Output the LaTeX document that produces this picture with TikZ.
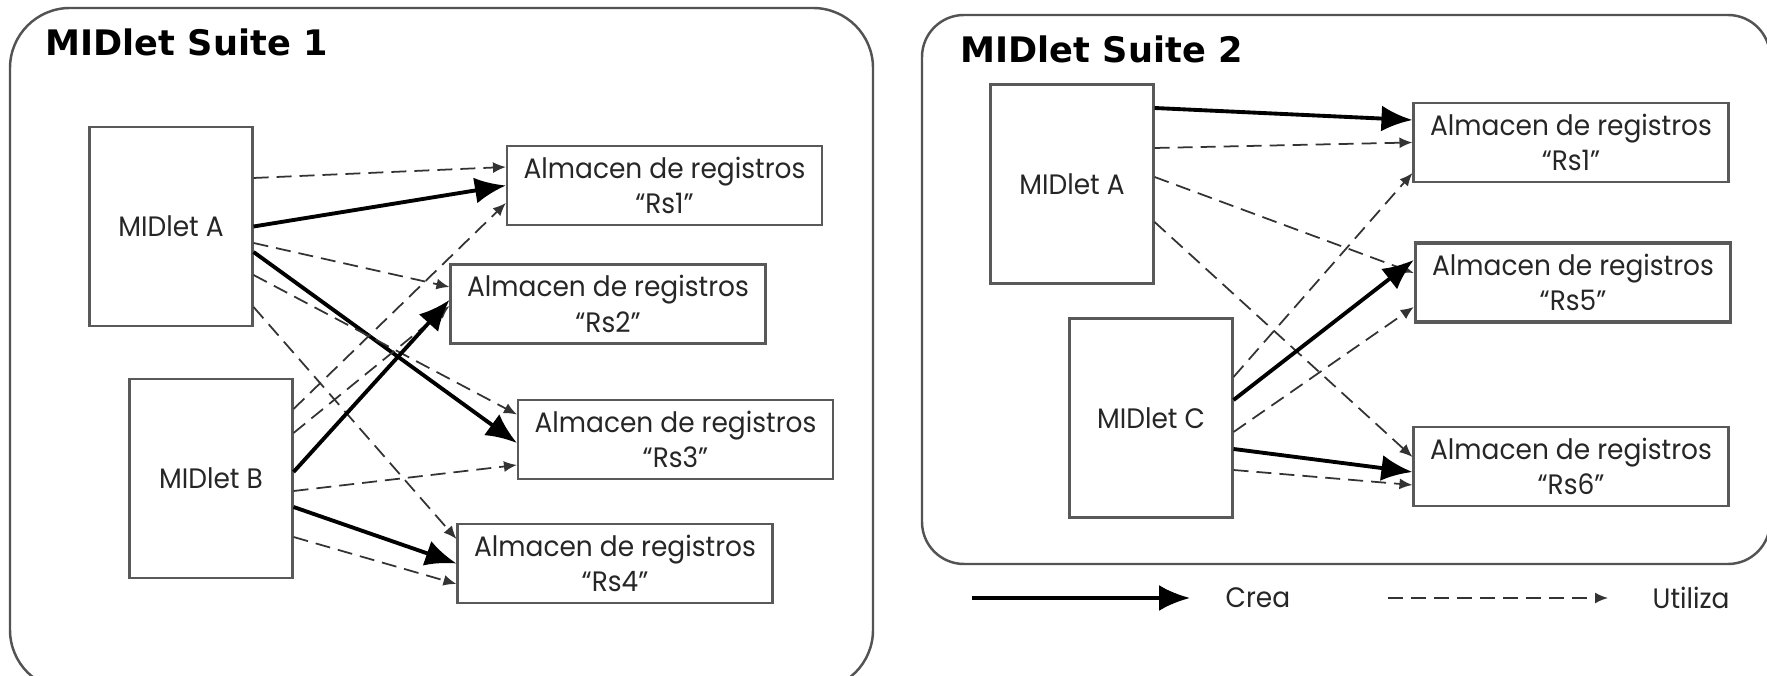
\documentclass[tikz,border=0pt]{standalone}
\usepackage{fontspec}
\usepackage{tikz}
\usetikzlibrary{arrows.meta}
\newfontfamily\boxfont[FakeStretch = 0.94]{Poppins}
\newfontfamily\titlefont{DejaVu Sans}

\begin{document}
\begin{tikzpicture}
		\tikzset{> = latex}
		\tikzset{suite/.style = {draw = gray!65!black, line width = 0.7pt},
			midlet/.style = {draw = gray!70!black, text = black!85, line width = 0.6pt, minimum width = 1.63cm, minimum height = 1.99cm, font = \boxfont\fontsize{8}{10.2}\selectfont},
			store/.style = {draw = gray!70!black, text = black!85, line width = 0.6pt, minimum width = 3.15cm, minimum height = 0.79cm, inner sep = 0pt, align = center, font = \boxfont\fontsize{8}{10.2}\selectfont},
			creates/.style = {line width = 1.1pt, -{Latex[length = 0.31cm, width = 0.26cm]}},
			uses/.style = {black!80, line width = 0.5pt, dash pattern = on 0.15cm off 0.08cm, -{Latex[length = 0.13cm, width = 0.11cm]}}}
		\useasboundingbox (0,0) rectangle (17.67,6.76);
		\draw[suite, rounded corners = 0.6cm] (0.10,-0.14) rectangle (8.73,6.68);
		\draw[suite, rounded corners = 0.42cm] (9.22,1.12) rectangle (17.70,6.61);
		\node[anchor = base west, inner sep = 0pt, font = \titlefont\bfseries\fontsize{10}{12}\selectfont] (T1) at (0.45,6.20) {MIDlet Suite 1};
		\node[anchor = base west, inner sep = 0pt, font = \titlefont\bfseries\fontsize{10}{12}\selectfont] (T2) at (9.60,6.13) {MIDlet Suite 2};
		\node[midlet] (A1) at (1.71,4.495) {MIDlet A};
		\node[midlet] (B1) at (2.11,1.975) {MIDlet B};
		\node[store] (R1) at (6.645,4.905) {Almacen de registros\\“Rs1”};
		\node[store] (R2) at (6.08,3.72) {Almacen de registros\\“Rs2”};
		\node[store] (R3) at (6.755,2.365) {Almacen de registros\\“Rs3”};
		\node[store] (R4) at (6.15,1.125) {Almacen de registros\\“Rs4”};
		\node[midlet] (A2) at (10.72,4.92) {MIDlet A};
		\node[midlet] (C2) at (11.51,2.58) {MIDlet C};
		\node[store] (S1) at (15.71,5.335) {Almacen de registros\\“Rs1”};
		\node[store, line width = 1pt] (S5) at (15.73,3.935) {Almacen de registros\\“Rs5”};
		\node[store] (S6) at (15.71,2.095) {Almacen de registros\\“Rs6”};
		\draw[uses] ([yshift = 0.485cm]A1.east) -- ([yshift = 0.185cm]R1.west);
		\draw[creates] (A1.east) -- (R1.west);
		\draw[uses] ([yshift = -0.165cm]A1.east) -- ([yshift = 0.17cm]R2.west);
		\draw[creates] ([yshift = -0.255cm]A1.east) -- ([yshift = -0.035cm]R3.west);
		\draw[uses] ([yshift = -0.485cm]A1.east) -- ([yshift = 0.25cm]R3.west);
		\draw[uses] ([yshift = -0.805cm]A1.east) -- ([yshift = 0.245cm]R4.west);
		\draw[uses] ([yshift = 0.695cm]B1.east) -- ([yshift = -0.175cm]R1.west);
		\draw[uses] ([yshift = 0.455cm]B1.east) -- ([yshift = -0.02cm]R2.west);
		\draw[creates] ([yshift = 0.065cm]B1.east) -- ([yshift = 0.04cm]R2.west);
		\draw[uses] ([yshift = -0.125cm]B1.east) -- ([yshift = -0.255cm]R3.west);
		\draw[creates] ([yshift = -0.285cm]B1.east) -- (R4.west);
		\draw[uses] ([yshift = -0.585cm]B1.east) -- ([yshift = -0.205cm]R4.west);
		\draw[creates] ([yshift = 0.76cm]A2.east) -- ([yshift = 0.225cm]S1.west);
		\draw[uses] ([yshift = 0.36cm]A2.east) -- (S1.west);
		\draw[uses] ([yshift = 0.07cm]A2.east) -- ([yshift = 0.095cm]S5.west);
		\draw[uses] ([yshift = -0.38cm]A2.east) -- ([yshift = 0.095cm]S6.west);
		\draw[uses] ([yshift = 0.41cm]C2.east) -- ([yshift = -0.305cm]S1.west);
		\draw[creates] ([yshift = 0.18cm]C2.east) -- ([yshift = 0.225cm]S5.west);
		\draw[uses] ([yshift = -0.14cm]C2.east) -- ([yshift = -0.245cm]S5.west);
		\draw[creates] ([yshift = -0.31cm]C2.east) -- ([yshift = -0.055cm]S6.west);
		\draw[uses] ([yshift = -0.52cm]C2.east) -- ([yshift = -0.185cm]S6.west);
		\node[anchor = west, inner sep = 0pt, text = black!85, font = \boxfont\fontsize{8}{10.2}\selectfont] (crea) at (12.25,0.78) {Crea};
		\node[anchor = west, inner sep = 0pt, text = black!85, font = \boxfont\fontsize{8}{10.2}\selectfont] (utiliza) at (16.52,0.78) {Utiliza};
		\coordinate (creaS) at (9.72,0.78);
		\coordinate (utilS) at (13.88,0.78);
		\draw[creates] (creaS) -- ([xshift = -0.35cm]crea.west);
		\draw[uses] (utilS) -- ([xshift = -0.44cm]utiliza.west);
	\end{tikzpicture}
\end{document}
